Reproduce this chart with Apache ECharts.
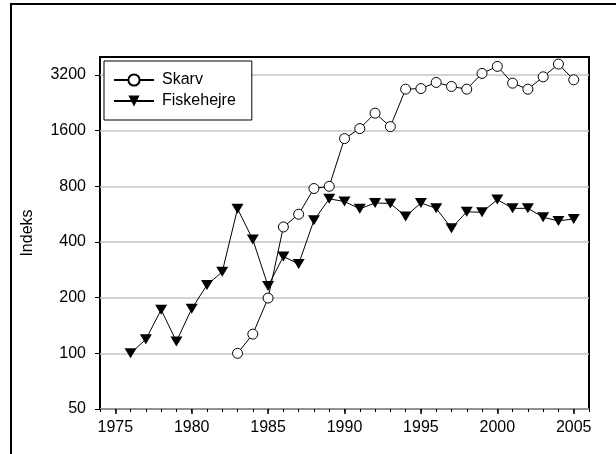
<!DOCTYPE html>
<html>
<head>
<meta charset="utf-8">
<script src="https://cdn.jsdelivr.net/npm/echarts@6/dist/echarts.min.js"></script>
<style>
html,body{margin:0;padding:0;background:#fff;}
#chart{width:616px;height:454px;}
</style>
</head>
<body>
<div id="chart"></div>
<script>
// Data
const skarvYears = [1983,1984,1985,1986,1987,1988,1989,1990,1991,1992,1993,1994,1995,1996,1997,1998,1999,2000,2001,2002,2003,2004,2005];
const skarvValues = [100,127,199,482,565,778,800,1448,1641,1987,1682,2680,2700,2914,2772,2680,3261,3559,2888,2680,3125,3663,3011];
const fiskYears = [1976,1977,1978,1979,1980,1981,1982,1983,1984,1985,1986,1987,1988,1989,1990,1991,1992,1993,1994,1995,1996,1997,1998,1999,2000,2001,2002,2003,2004,2005];
const fiskValues = [100,119,172,116,174,234,276,605,412,231,334,304,524,684,662,604,650,646,550,650,608,475,582,579,678,608,608,544,520,533];
const xTickLabels = [1975,1980,1985,1990,1995,2000,2005];
const xMinorTicks = [1974,1975,1976,1977,1978,1979,1980,1981,1982,1983,1984,1985,1986,1987,1988,1989,1990,1991,1992,1993,1994,1995,1996,1997,1998,1999,2000,2001,2002,2003,2004,2005,2006];
const yTickLabels = [50,100,200,400,800,1600,3200];
const seriesNames = ['Skarv','Fiskehejre'];
const yAxisName = 'Indeks';

const FONT = 'Liberation Sans, Arial, sans-serif';
const plain = v => String(Math.round(v));
const chart = echarts.init(document.getElementById('chart'), null, {renderer:'canvas'});
chart.setOption({
  animation: false,
  backgroundColor: '#fff',
  graphic: [{
    type: 'rect', silent: true, z: 100,
    shape: {x: 11, y: 4, width: 800, height: 700},
    style: {fill: 'none', stroke: '#000', lineWidth: 2}
  }],
  grid: {
    left: 100, top: 57, right: 27, bottom: 45,
    show: true, borderColor: '#000', borderWidth: 2, backgroundColor: 'transparent'
  },
  legend: {
    orient: 'vertical', left: 104, top: 61,
    padding: [11, 16, 11, 9],
    itemGap: 5, itemWidth: 40, itemHeight: 14,
    borderColor: '#000', borderWidth: 1, backgroundColor: '#fff',
    textStyle: {fontFamily: FONT, fontSize: 16, color: '#000', lineHeight: 16, padding: [0,0,0,3]},
    data: seriesNames
  },
  xAxis: [{
    type: 'value', min: 1974, max: 2006, position: 'bottom',
    axisLine: {show: false},
    axisTick: {show: true, length: 5, customValues: xTickLabels, lineStyle: {color: '#000', width: 1.5}},
    axisLabel: {show: true, customValues: xTickLabels, formatter: plain, margin: 11, fontFamily: FONT, fontSize: 16, color: '#000'},
    splitLine: {show: false}
  }, {
    type: 'value', min: 1974, max: 2006, position: 'bottom', offset: 0,
    axisLine: {show: false},
    axisTick: {show: true, length: 3, customValues: xMinorTicks, lineStyle: {color: '#000', width: 1}},
    axisLabel: {show: false},
    splitLine: {show: false}
  }],
  yAxis: {
    type: 'log', logBase: 2, min: 50, max: 4000,
    name: yAxisName, nameLocation: 'middle', nameRotate: 90, nameGap: 64,
    nameTextStyle: {fontFamily: FONT, fontSize: 16, color: '#000'},
    axisLine: {show: false},
    axisTick: {show: true, length: 5, customValues: yTickLabels, lineStyle: {color: '#000', width: 1}},
    axisLabel: {show: true, customValues: yTickLabels, formatter: plain, margin: 14, fontFamily: FONT, fontSize: 16, color: '#000'},
    splitLine: {show: true, lineStyle: {color: '#c4c4c4', width: 1.5}}
  },
  series: [{
    name: seriesNames[0], type: 'line', xAxisIndex: 0,
    data: skarvYears.map((y, i) => [y, skarvValues[i]]),
    symbol: 'circle', symbolSize: 10, showAllSymbol: true,
    lineStyle: {color: '#000', width: 1},
    itemStyle: {color: '#fff', borderColor: '#000', borderWidth: 1},
    z: 3
  }, {
    name: seriesNames[1], type: 'line', xAxisIndex: 0,
    data: fiskYears.map((y, i) => [y, fiskValues[i]]),
    symbol: 'triangle', symbolRotate: 180, symbolSize: [12, 10], showAllSymbol: true,
    lineStyle: {color: '#000', width: 1},
    itemStyle: {color: '#000', borderColor: '#000', borderWidth: 0},
    z: 2
  }]
});
</script>
</body>
</html>
